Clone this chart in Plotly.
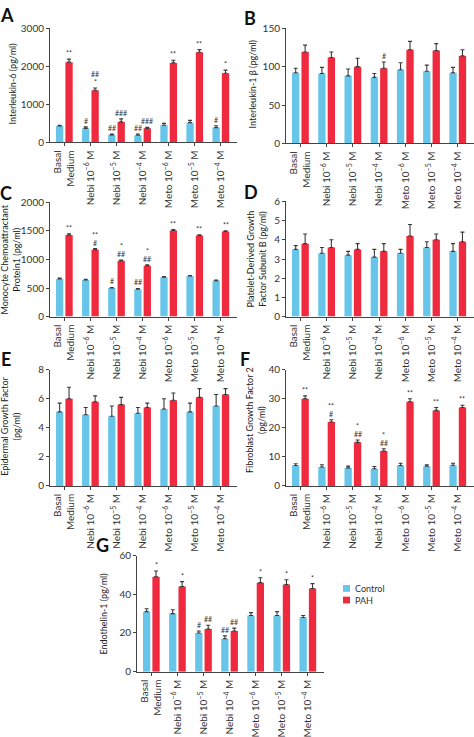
import plotly.graph_objects as go

W, H = 474, 737
FONT = "Lato"
BLUE = "#66C5E8"
RED = "#EF2A3F"
INK = "#333333"

categories = ["Basal<br>Medium", "Nebi 10<sup>−6</sup> M", "Nebi 10<sup>−5</sup> M",
              "Nebi 10<sup>−4</sup> M", "Meto 10<sup>−6</sup> M", "Meto 10<sup>−5</sup> M",
              "Meto 10<sup>−4</sup> M"]
series_names = ["Control", "PAH"]

# A: Interleukin-6
il6_ctrl = [430, 370, 200, 190, 450, 520, 390]
il6_ctrl_err = [20, 40, 20, 30, 50, 60, 50]
il6_pah = [2110, 1370, 540, 370, 2090, 2370, 1820]
il6_pah_err = [80, 60, 80, 30, 70, 70, 80]
il6_ctrl_sig = ["", "#", "##", "##", "", "", "#"]
il6_pah_sig = ["**", "##|*", "###", "###", "**", "**", "*"]

# B: Interleukin-1 beta
il1b_ctrl = [92, 91, 88, 86, 96, 94, 92]
il1b_ctrl_err = [6, 8, 9, 5, 9, 8, 7]
il1b_pah = [119, 112, 100, 98, 122, 121, 114]
il1b_pah_err = [9, 7, 11, 8, 11, 9, 8]
il1b_ctrl_sig = ["", "", "", "", "", "", ""]
il1b_pah_sig = ["", "", "", "#", "", "", ""]

# C: Monocyte Chemoattractant Protein 1
mcp_ctrl = [660, 640, 500, 480, 690, 710, 630]
mcp_ctrl_err = [15, 15, 10, 12, 12, 10, 10]
mcp_pah = [1430, 1170, 980, 890, 1510, 1420, 1490]
mcp_pah_err = [20, 20, 12, 15, 15, 12, 12]
mcp_ctrl_sig = ["", "", "#", "##", "", "", ""]
mcp_pah_sig = ["**", "**|#", "*|##", "*|##", "**", "**", "**"]

# D: Platelet-Derived Growth Factor Subunit B
pdgf_ctrl = [3.5, 3.3, 3.2, 3.1, 3.3, 3.6, 3.4]
pdgf_ctrl_err = [0.2, 0.3, 0.2, 0.4, 0.2, 0.3, 0.4]
pdgf_pah = [3.8, 3.6, 3.5, 3.4, 4.2, 4.0, 3.9]
pdgf_pah_err = [0.5, 0.4, 0.3, 0.4, 0.6, 0.3, 0.5]
pdgf_ctrl_sig = ["", "", "", "", "", "", ""]
pdgf_pah_sig = ["", "", "", "", "", "", ""]

# E: Epidermal Growth Factor
egf_ctrl = [5.1, 4.9, 4.8, 5.0, 5.3, 5.1, 5.5]
egf_ctrl_err = [0.6, 0.5, 0.7, 0.4, 0.7, 0.6, 0.8]
egf_pah = [6.0, 5.8, 5.6, 5.4, 5.9, 6.1, 6.3]
egf_pah_err = [0.8, 0.4, 0.5, 0.3, 0.5, 0.6, 0.4]
egf_ctrl_sig = ["", "", "", "", "", "", ""]
egf_pah_sig = ["", "", "", "", "", "", ""]

# F: Fibroblast Growth Factor 2
fgf_ctrl = [7.0, 6.5, 6.2, 5.9, 7.0, 6.8, 7.1]
fgf_ctrl_err = [0.6, 0.8, 0.6, 0.8, 0.8, 0.5, 0.7]
fgf_pah = [30, 22, 15, 12, 29, 26, 27]
fgf_pah_err = [1.0, 0.8, 0.8, 0.8, 1.0, 1.0, 0.8]
fgf_ctrl_sig = ["", "", "", "", "", "", ""]
fgf_pah_sig = ["**", "**|#", "*|##", "*|##", "**", "**", "**"]

# G: Endothelin-1
et1_ctrl = [31, 30, 20, 17, 29, 29, 28]
et1_ctrl_err = [1.5, 2, 1, 1.5, 1.5, 2, 1]
et1_pah = [49, 44, 22, 21, 46, 45, 43]
et1_pah_err = [3, 2.5, 2, 1.5, 2.5, 2.5, 2.5]
et1_ctrl_sig = ["", "", "#", "##", "", "", ""]
et1_pah_sig = ["*", "*", "##", "##", "*", "*", "*"]

panels = [
    dict(letter="A", title="Interleukin-6 (pg/ml)", ymax=3000, dtick=1000,
         px=(50, 237), py=(22, 140), lpos=(7, 8), tpos=(12, 80),
         data=(il6_ctrl, il6_ctrl_err, il6_pah, il6_pah_err, il6_ctrl_sig, il6_pah_sig)),
    dict(letter="B", title="Interleukin-1 β (pg/ml)", ymax=150, dtick=50,
         px=(286, 474), py=(22, 141), lpos=(250, 11), tpos=(252, 80),
         data=(il1b_ctrl, il1b_ctrl_err, il1b_pah, il1b_pah_err, il1b_ctrl_sig, il1b_pah_sig)),
    dict(letter="C", title="Monocyte Chemoattractant<br>Protein1 (pg/ml)", ymax=2000, dtick=500,
         px=(50, 237), py=(202, 320), lpos=(6, 192), tpos=(11, 261),
         data=(mcp_ctrl, mcp_ctrl_err, mcp_pah, mcp_pah_err, mcp_ctrl_sig, mcp_pah_sig)),
    dict(letter="D", title="Platelet-Derived Growth<br>Factor Subunit B (pg/ml)", ymax=6, dtick=1,
         px=(286, 474), py=(201, 320), lpos=(251, 191), tpos=(257, 261),
         data=(pdgf_ctrl, pdgf_ctrl_err, pdgf_pah, pdgf_pah_err, pdgf_ctrl_sig, pdgf_pah_sig)),
    dict(letter="E", title="Epidermal Growth Factor<br>(pg/ml)", ymax=8, dtick=2,
         px=(50, 237), py=(375, 495), lpos=(6, 364), tpos=(11, 434),
         data=(egf_ctrl, egf_ctrl_err, egf_pah, egf_pah_err, egf_ctrl_sig, egf_pah_sig)),
    dict(letter="F", title="Fibroblast Growth Factor 2<br>(pg/ml)", ymax=40, dtick=10,
         px=(286, 474), py=(375, 495), lpos=(245, 364), tpos=(255, 427),
         data=(fgf_ctrl, fgf_ctrl_err, fgf_pah, fgf_pah_err, fgf_ctrl_sig, fgf_pah_sig)),
    dict(letter="G", title="Endothelin-1 (pg/ml)", ymax=60, dtick=20,
         px=(137, 324), py=(567, 687), lpos=(102, 556), tpos=(104, 628),
         data=(et1_ctrl, et1_ctrl_err, et1_pah, et1_pah_err, et1_ctrl_sig, et1_pah_sig)),
]

BAR_W = 0.28
OFF = [-0.32, 0.04]
COLORS = [BLUE, RED]
xidx = list(range(len(categories)))

fig = go.Figure()
annotations = []
layout_axes = {}

for k, p in enumerate(panels):
    n = "" if k == 0 else str(k + 1)
    xa, ya = "x" + n, "y" + n
    ctrl, ctrl_err, pah, pah_err, ctrl_sig, pah_sig = p["data"]
    for s, (vals, errs, sigs) in enumerate([(ctrl, ctrl_err, ctrl_sig), (pah, pah_err, pah_sig)]):
        fig.add_trace(go.Bar(
            x=xidx, y=vals, width=BAR_W, offset=OFF[s], name=series_names[s],
            marker=dict(color=COLORS[s], line=dict(width=0)),
            error_y=dict(type="data", array=errs, arrayminus=[0] * len(errs), symmetric=False,
                         color="#3a3a3a", thickness=1.1, width=2),
            xaxis=xa, yaxis=ya, showlegend=False, hoverinfo="skip"))
        for i, sg in enumerate(sigs):
            if not sg:
                continue
            lines = sg.split("|")[::-1]  # bottom first
            for j, t in enumerate(lines):
                annotations.append(dict(
                    x=i + OFF[s] + BAR_W / 2, y=vals[i] + errs[i], xref=xa, yref=ya,
                    text=t, showarrow=False, yanchor="bottom", xanchor="center",
                    yshift=0 + 8 * j, font=dict(family=FONT, size=7, color=INK)))
    x0, x1 = p["px"]
    top, bot = p["py"]
    layout_axes["xaxis" + n] = dict(
        domain=[x0 / W, x1 / W], anchor=ya, range=[-0.55, 6.62],
        tickmode="array", tickvals=xidx, ticktext=categories, tickangle=-90,
        ticks="outside", ticklen=3, tickwidth=1, tickcolor="#444",
        showline=True, linecolor="#444", linewidth=1, showgrid=False, zeroline=False,
        tickfont=dict(family=FONT, size=10, color=INK), fixedrange=True)
    layout_axes["yaxis" + n] = dict(
        domain=[1 - bot / H, 1 - top / H], anchor=xa, range=[0, p["ymax"]],
        tickmode="linear", tick0=0, dtick=p["dtick"],
        ticks="outside", ticklen=3, tickwidth=1, tickcolor="#444",
        showline=True, linecolor="#444", linewidth=1, showgrid=False, zeroline=False,
        tickfont=dict(family=FONT, size=10, color=INK), fixedrange=True)
    annotations.append(dict(x=p["lpos"][0] / W, y=1 - p["lpos"][1] / H, xref="paper", yref="paper",
                            text="<b>" + p["letter"] + "</b>", showarrow=False,
                            xanchor="center", yanchor="middle",
                            font=dict(family=FONT, size=18, color="#111")))
    annotations.append(dict(x=p["tpos"][0] / W, y=1 - p["tpos"][1] / H, xref="paper", yref="paper",
                            text=p["title"], textangle=-90, showarrow=False,
                            xanchor="center", yanchor="middle",
                            font=dict(family=FONT, size=9, color="#222")))

# manual legend
shapes = []
for s, (name, col, yc) in enumerate(zip(series_names, COLORS, [601, 613])):
    shapes.append(dict(type="rect", xref="paper", yref="paper",
                       x0=343 / W, x1=350 / W, y0=1 - (yc + 3.5) / H, y1=1 - (yc - 3.5) / H,
                       fillcolor=col, line=dict(width=0)))
    annotations.append(dict(x=353 / W, y=1 - yc / H, xref="paper", yref="paper", text=name,
                            showarrow=False, xanchor="left", yanchor="middle",
                            font=dict(family=FONT, size=9, color=INK)))

fig.update_layout(
    width=W, height=H, margin=dict(l=0, r=0, t=0, b=0),
    paper_bgcolor="white", plot_bgcolor="white", barmode="overlay",
    annotations=annotations, shapes=shapes, showlegend=False,
    font=dict(family=FONT, size=9, color=INK),
    **layout_axes)

fig.write_html("out.html", config={"displayModeBar": False},
               post_script="document.body.style.margin='0';document.body.style.overflow='hidden';")
